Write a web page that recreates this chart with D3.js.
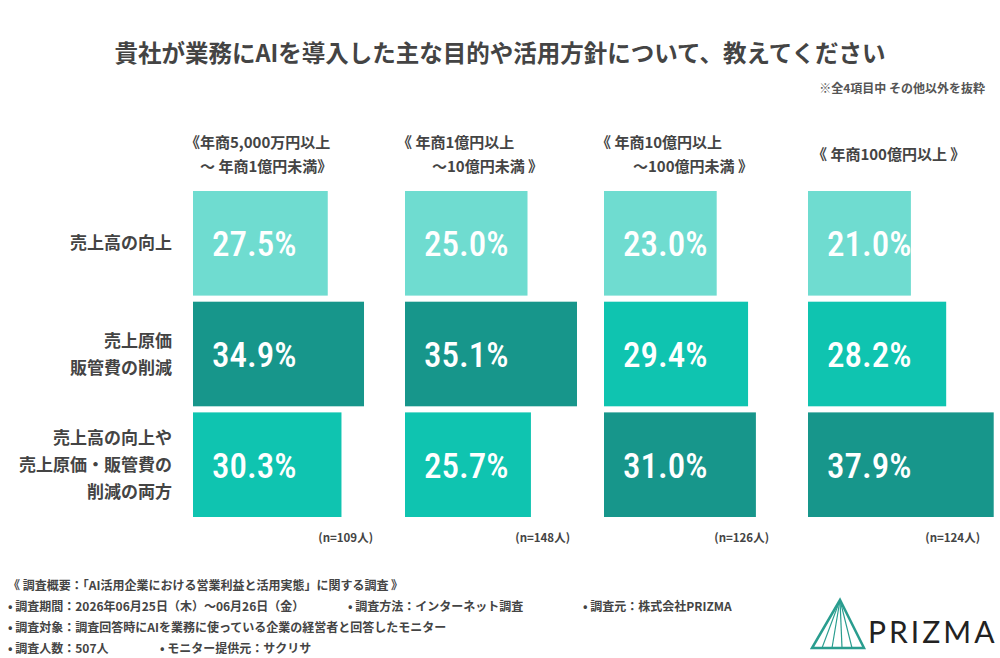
<!DOCTYPE html>
<html><head><meta charset="utf-8">
<script src="https://cdn.jsdelivr.net/npm/d3@7"></script>
<style>body{margin:0;background:#fff}svg{font-family:"Noto Sans CJK JP","Noto Sans",sans-serif}</style>
</head><body><svg id="vis" width="1000" height="658"></svg>
<script>
// data
const panels = [["《年商5,000万円以上", "～ 年商1億円未満》"], ["《 年商1億円以上", "～10億円未満 》"], ["《 年商10億円以上", "～100億円未満 》"], ["《 年商100億円以上 》"]];
const items = [["売上高の向上"], ["売上原価", "販管費の削減"], ["売上高の向上や", "売上原価・販管費の", "削減の両方"]];
const values = [[27.5, 34.9, 30.3], [25.0, 35.1, 25.7], [23.0, 29.4, 31.0], [21.0, 28.2, 37.9]];
const counts = ["(n=109人)", "(n=148人)", "(n=126人)", "(n=124人)"];
const notes = [
  ["《 調査概要：「AI活用企業における営業利益と活用実態」に関する調査 》"],
  ["• 調査期間：2026年06月25日（木）～06月26日（金）", "• 調査方法：インターネット調査", "• 調査元：株式会社PRIZMA"],
  ["• 調査対象：調査回答時にAIを業務に使っている企業の経営者と回答したモニター"],
  ["• 調査人数：507人", "• モニター提供元：サクリサ"]
];
const noteX = [[8], [8, 348, 583], [8], [8, 160]];

const svg = d3.select("#vis");
const panelX = [193, 405, 604, 808];
const x = d3.scaleLinear().domain([0, 40]).range([0, 196]);
const y = d3.scaleBand().domain(d3.range(3)).range([191, 517]).paddingInner(0.055);
const colors = ["#6fdcd0", "#0fc4b0", "#17968b"]; // by rank in panel: low, mid, high

svg.append("text").attr("x", 500).attr("y", 62).attr("text-anchor", "middle")
  .attr("font-size", 23.5).attr("font-weight", "bold").attr("fill", "#444")
  .text("貴社が業務にAIを導入した主な目的や活用方針について、教えてください");
svg.append("text").attr("x", 985).attr("y", 93).attr("text-anchor", "end")
  .attr("font-size", 12).attr("font-weight", "bold").attr("fill", "#555")
  .text("※全4項目中 その他以外を抜粋");

items.forEach(function(lines, i){
  const cy = y(i) + y.bandwidth()/2;
  lines.forEach(function(l, k){
    svg.append("text").attr("x", 172).attr("y", cy + (k - (lines.length-1)/2)*27 + 6)
      .attr("text-anchor", "end").attr("font-size", 17).attr("font-weight", "bold").attr("fill", "#444").text(l);
  });
});

panels.forEach(function(p, j){
  const px = panelX[j];
  p.forEach(function(l, k){
    svg.append("text").attr("x", px + (k == 1 ? [7, 27, 29, 0][j] : -8) + (p.length == 1 ? 12 : 0)).attr("y", p.length == 1 ? 160 : 148 + k*24)
      .attr("font-size", 15).attr("font-weight", "bold").attr("fill", "#444").text(l);
  });
  const sorted = values[j].slice().sort(d3.ascending);
  const g = svg.append("g");
  g.selectAll("rect").data(values[j]).enter().append("rect")
    .attr("x", px).attr("y", function(d, i){ return y(i); })
    .attr("width", function(d){ return x(d); }).attr("height", y.bandwidth())
    .attr("fill", function(d){ return colors[sorted.indexOf(d)]; });
  g.selectAll("text").data(values[j]).enter().append("text")
    .attr("x", px + 19).attr("y", function(d, i){ return y(i) + y.bandwidth()/2 + 13; })
    .attr("font-family", "'Roboto Condensed','Liberation Sans Narrow','DejaVu Sans Condensed',sans-serif")
    .attr("font-size", 35).attr("font-weight", 500).attr("fill", "#fff")
    .text(function(d){ return d.toFixed(1) + "%"; });
  svg.append("text").attr("x", px + [180, 165, 165, 172][j]).attr("y", 542).attr("text-anchor", "end")
    .attr("font-size", 11.5).attr("font-weight", "bold").attr("fill", "#444").text(counts[j]);
});

notes.forEach(function(row, r){
  row.forEach(function(t, k){
    svg.append("text").attr("x", noteX[r][k]).attr("y", 590 + r*21)
      .attr("font-size", 12).attr("font-weight", "bold").attr("fill", "#444").text(t);
  });
});

// logo
const lg = svg.append("g").attr("transform", "translate(812,600)");
lg.append("path").attr("d", "M28,0 L0,48 L52,48 Z").attr("fill", "none").attr("stroke", "#2a9d8f").attr("stroke-width", 2.5);
[10, 20, 30, 40].forEach(function(e){
  lg.append("line").attr("x1", 28).attr("y1", 0).attr("x2", e).attr("y2", 48).attr("stroke", "#2a9d8f").attr("stroke-width", 1.2);
});
svg.append("text").attr("x", 868).attr("y", 643).attr("font-family", "Lato, sans-serif")
  .attr("font-size", 30).attr("letter-spacing", 3).attr("fill", "#222").text("PRIZMA");
</script></body></html>
